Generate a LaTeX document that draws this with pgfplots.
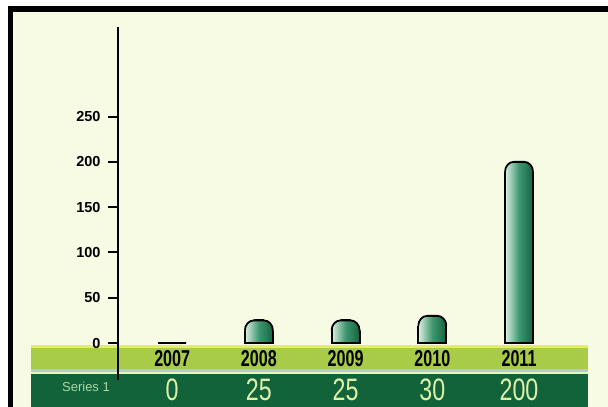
\documentclass[border=0pt]{standalone}
\usepackage{pgfplots}
\pgfplotsset{compat=1.18}
\usepackage{pgfplotstable}
\usepackage{fontspec}
\setmainfont{Liberation Sans}
\newfontfamily\yearfont[FakeStretch=0.7]{Liberation Sans}
\newfontfamily\valfont[FakeStretch=0.75]{Liberation Sans}
\definecolor{bg}{RGB}{247,251,228}
\definecolor{bandlight}{RGB}{168,204,72}
\definecolor{bandedge}{RGB}{228,238,100}
\definecolor{bandblue}{RGB}{170,205,215}
\definecolor{bandpale}{RGB}{236,244,190}
\definecolor{banddark}{RGB}{18,98,58}
\definecolor{valtext}{RGB}{222,240,170}
\definecolor{sertext}{RGB}{175,215,165}
\definecolor{barlight}{RGB}{220,240,226}
\definecolor{barmid}{RGB}{62,150,110}
\definecolor{bardark}{RGB}{20,100,64}

\pgfdeclareplotmark{cap}{%
  \pgfsetfillcolor{bg}%
  \pgfpathmoveto{\pgfpoint{-16.5pt}{-10pt}}%
  \pgfpathlineto{\pgfpoint{-14pt}{-10pt}}%
  \pgfpatharc{180}{90}{9pt and 10pt}%
  \pgfpathlineto{\pgfpoint{-5pt}{2pt}}%
  \pgfpathlineto{\pgfpoint{-16.5pt}{2pt}}%
  \pgfpathclose
  \pgfpathmoveto{\pgfpoint{16.5pt}{-10pt}}%
  \pgfpathlineto{\pgfpoint{14pt}{-10pt}}%
  \pgfpatharc{0}{90}{9pt and 10pt}%
  \pgfpathlineto{\pgfpoint{5pt}{2pt}}%
  \pgfpathlineto{\pgfpoint{16.5pt}{2pt}}%
  \pgfpathclose
  \pgfusepathqfill
  \pgfsetstrokecolor{black}%
  \pgfsetlinewidth{1.8pt}%
  \pgfpathmoveto{\pgfpoint{-14pt}{-10pt}}%
  \pgfpatharc{180}{90}{9pt and 10pt}%
  \pgfpathlineto{\pgfpoint{5pt}{0pt}}%
  \pgfpatharc{90}{0}{9pt and 10pt}%
  \pgfusepathqstroke
}

\pgfplotstableread{
x y
0 0
1 25
2 25
3 30
4 200
}\datatable

\begin{document}
\begin{tikzpicture}[x=1pt,y=1pt]
\fill[white] (0,0) rectangle (608,407);
\fill[black] (8,0) rectangle (13,401);
\fill[black] (8,395) rectangle (608,401);
\fill[bg] (13,0) rectangle (608,395);
\fill[banddark] (31,0) rectangle (588,33);
\fill[bandpale] (31,33) rectangle (588,35);
\fill[bandblue] (31,35) rectangle (588,38);
\fill[bandlight] (31,38) rectangle (588,59);
\fill[bandedge] (31,59) rectangle (588,62);
\begin{axis}[
  at={(118pt,27pt)}, anchor=south west,
  scale only axis, width=482pt, height=353pt,
  xmin=-0.625, xmax=4.934, ymin=-40.8, ymax=348.8,
  axis x line=none, axis y line=left,
  y axis line style={-, line width=2.5pt},
  ytick={0,50,...,250},
  tick align=outside, major tick length=10pt,
  ytick style={line width=2pt, black},
  yticklabel style={font=\bfseries\fontsize{14.5}{14.5}\selectfont, xshift=-4pt},
  /pgf/number format/assume math mode=true,
  clip=false,
]
\pgfplotsinvokeforeach{0,...,4}{%
\addplot[ybar, bar width=28pt, bar shift=0pt, draw=black, line width=1.8pt,
  left color=barlight, right color=bardark, middle color=barmid,
  restrict x to domain=#1:#1]
  table[x=x,y=y]{\datatable};
}
\addplot[only marks, mark=cap, restrict y to domain=1:1000]
  table[x=x,y=y]{\datatable};
\node[font=\yearfont\bfseries\fontsize{23}{23}\selectfont] at (axis cs:0,-17.7) {2007};
\node[font=\yearfont\bfseries\fontsize{23}{23}\selectfont] at (axis cs:1,-17.7) {2008};
\node[font=\yearfont\bfseries\fontsize{23}{23}\selectfont] at (axis cs:2,-17.7) {2009};
\node[font=\yearfont\bfseries\fontsize{23}{23}\selectfont] at (axis cs:3,-17.7) {2010};
\node[font=\yearfont\bfseries\fontsize{23}{23}\selectfont] at (axis cs:4,-17.7) {2011};
\node[font=\valfont\fontsize{31}{31}\selectfont, text=valtext] at (axis cs:0,-51.9) {0};
\node[font=\valfont\fontsize{31}{31}\selectfont, text=valtext] at (axis cs:1,-51.9) {25};
\node[font=\valfont\fontsize{31}{31}\selectfont, text=valtext] at (axis cs:2,-51.9) {25};
\node[font=\valfont\fontsize{31}{31}\selectfont, text=valtext] at (axis cs:3,-51.9) {30};
\node[font=\valfont\fontsize{31}{31}\selectfont, text=valtext] at (axis cs:4,-51.9) {200};
\end{axis}
\node[font=\fontsize{13}{13}\selectfont, text=sertext] at (86,20) {Series 1};
\pgfresetboundingbox
\useasboundingbox (0,0) rectangle (608,407);
\end{tikzpicture}
\end{document}
